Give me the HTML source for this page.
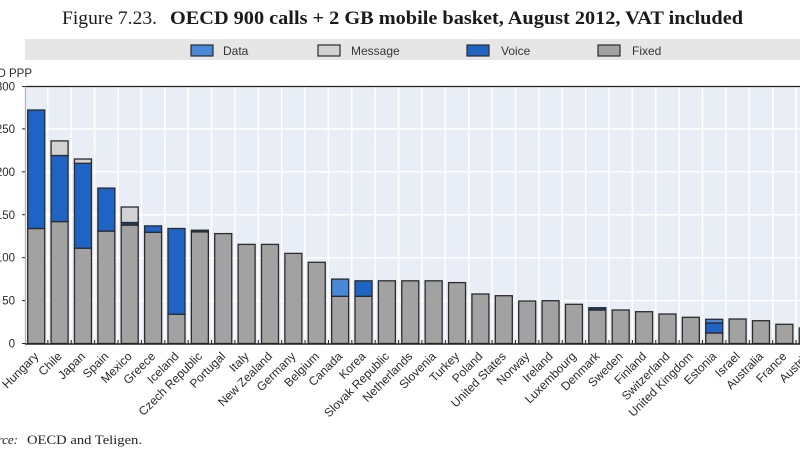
<!DOCTYPE html>
<html>
<head>
<meta charset="utf-8">
<style>
html,body{margin:0;padding:0;background:#fff;}
body{width:800px;height:450px;overflow:hidden;}
svg{display:block;}
.lbl{font-family:"Liberation Sans",Arial,sans-serif;font-size:12px;fill:#2a2a2a;}
.yl{font-family:"Liberation Sans",Arial,sans-serif;font-size:11.5px;fill:#2a2a2a;}
.lg{font-family:"Liberation Sans",Arial,sans-serif;font-size:12px;fill:#333;}
</style>
</head>
<body>
<svg width="800" height="450" viewBox="0 0 800 450" xmlns="http://www.w3.org/2000/svg">
<rect x="0" y="0" width="800" height="450" fill="#fff"/>

<!-- Title -->
<text x="62" y="24" font-family="'Liberation Serif',serif" font-size="19" fill="#1a1a1a" textLength="95" lengthAdjust="spacingAndGlyphs">Figure 7.23.</text>
<text x="170" y="24" font-family="'Liberation Serif',serif" font-size="19" font-weight="bold" fill="#1a1a1a" textLength="573" lengthAdjust="spacingAndGlyphs">OECD 900 calls + 2 GB mobile basket, August 2012, VAT included</text>

<!-- Legend band -->
<rect x="25" y="39" width="775" height="21" fill="#e6e6e6"/>
<rect x="191" y="45" width="22" height="11" fill="#4a88d8" stroke="#2b2b2b" stroke-width="1.2"/>
<text class="lg" x="223" y="55">Data</text>
<rect x="318" y="45" width="22" height="11" fill="#d2d2d2" stroke="#2b2b2b" stroke-width="1.2"/>
<text class="lg" x="351" y="55">Message</text>
<rect x="467" y="45" width="22" height="11" fill="#1f64c4" stroke="#2b2b2b" stroke-width="1.2"/>
<text class="lg" x="501" y="55">Voice</text>
<rect x="598" y="45" width="22" height="11" fill="#a2a2a2" stroke="#2b2b2b" stroke-width="1.2"/>
<text class="lg" x="632" y="55">Fixed</text>

<!-- Y axis title -->
<text class="yl" x="32" y="77" text-anchor="end">USD PPP</text>

<!-- Plot background -->
<rect x="25" y="86" width="775" height="258" fill="#e9edf5"/>
<!-- horizontal grid -->
<g stroke="#ffffff" stroke-width="1.5">
<line x1="25" x2="800" y1="300.6" y2="300.6"/>
<line x1="25" x2="800" y1="257.7" y2="257.7"/>
<line x1="25" x2="800" y1="214.75" y2="214.75"/>
<line x1="25" x2="800" y1="171.8" y2="171.8"/>
<line x1="25" x2="800" y1="128.9" y2="128.9"/>
</g>
<!-- vertical grid -->
<g stroke="#ffffff" stroke-width="1.5">
<line x1="47.88" x2="47.88" y1="87" y2="344"/>
<line x1="71.26" x2="71.26" y1="87" y2="344"/>
<line x1="94.64" x2="94.64" y1="87" y2="344"/>
<line x1="118.02" x2="118.02" y1="87" y2="344"/>
<line x1="141.4" x2="141.4" y1="87" y2="344"/>
<line x1="164.78" x2="164.78" y1="87" y2="344"/>
<line x1="188.16" x2="188.16" y1="87" y2="344"/>
<line x1="211.54" x2="211.54" y1="87" y2="344"/>
<line x1="234.92" x2="234.92" y1="87" y2="344"/>
<line x1="258.3" x2="258.3" y1="87" y2="344"/>
<line x1="281.68" x2="281.68" y1="87" y2="344"/>
<line x1="305.06" x2="305.06" y1="87" y2="344"/>
<line x1="328.44" x2="328.44" y1="87" y2="344"/>
<line x1="351.82" x2="351.82" y1="87" y2="344"/>
<line x1="375.2" x2="375.2" y1="87" y2="344"/>
<line x1="398.58" x2="398.58" y1="87" y2="344"/>
<line x1="421.96" x2="421.96" y1="87" y2="344"/>
<line x1="445.34" x2="445.34" y1="87" y2="344"/>
<line x1="468.72" x2="468.72" y1="87" y2="344"/>
<line x1="492.1" x2="492.1" y1="87" y2="344"/>
<line x1="515.48" x2="515.48" y1="87" y2="344"/>
<line x1="538.86" x2="538.86" y1="87" y2="344"/>
<line x1="562.24" x2="562.24" y1="87" y2="344"/>
<line x1="585.62" x2="585.62" y1="87" y2="344"/>
<line x1="609" x2="609" y1="87" y2="344"/>
<line x1="632.38" x2="632.38" y1="87" y2="344"/>
<line x1="655.76" x2="655.76" y1="87" y2="344"/>
<line x1="679.14" x2="679.14" y1="87" y2="344"/>
<line x1="702.52" x2="702.52" y1="87" y2="344"/>
<line x1="725.9" x2="725.9" y1="87" y2="344"/>
<line x1="749.28" x2="749.28" y1="87" y2="344"/>
<line x1="772.66" x2="772.66" y1="87" y2="344"/>
<line x1="796.04" x2="796.04" y1="87" y2="344"/>
</g>
<!-- frame -->
<line x1="25" x2="800" y1="86.5" y2="86.5" stroke="#222" stroke-width="1.2"/>
<line x1="25.3" x2="25.3" y1="86" y2="344" stroke="#9a9a9a" stroke-width="0.8"/>

<!-- Bars -->
<g stroke="#2b2b2b" stroke-width="1.3">
<!-- Hungary -->
<rect x="27.7" y="228.5" width="17" height="115" fill="#a2a2a2"/>
<rect x="27.7" y="110" width="17" height="118.5" fill="#1f64c4"/>
<!-- Chile -->
<rect x="51.08" y="221.6" width="17" height="121.9" fill="#a2a2a2"/>
<rect x="51.08" y="155.5" width="17" height="66.1" fill="#1f64c4"/>
<rect x="51.08" y="140.9" width="17" height="14.6" fill="#d2d2d2"/>
<!-- Japan -->
<rect x="74.46" y="248.2" width="17" height="95.3" fill="#a2a2a2"/>
<rect x="74.46" y="163.3" width="17" height="84.9" fill="#1f64c4"/>
<rect x="74.46" y="159" width="17" height="4.3" fill="#d2d2d2"/>
<!-- Spain -->
<rect x="97.84" y="231.1" width="17" height="112.4" fill="#a2a2a2"/>
<rect x="97.84" y="188.1" width="17" height="43" fill="#1f64c4"/>
<!-- Mexico -->
<rect x="121.22" y="225.1" width="17" height="118.4" fill="#a2a2a2"/>
<rect x="121.22" y="222.5" width="17" height="2.6" fill="#1f3f7a"/>
<rect x="121.22" y="207" width="17" height="15.5" fill="#d2d2d2"/>
<!-- Greece -->
<rect x="144.6" y="232.3" width="17" height="111.2" fill="#a2a2a2"/>
<rect x="144.6" y="225.9" width="17" height="6.4" fill="#1f64c4"/>
<!-- Iceland -->
<rect x="167.98" y="314.3" width="17" height="29.2" fill="#a2a2a2"/>
<rect x="167.98" y="228.5" width="17" height="85.8" fill="#1f64c4"/>
<!-- Czech Republic -->
<rect x="191.36" y="231.9" width="17" height="111.6" fill="#a2a2a2"/>
<rect x="191.36" y="230.2" width="17" height="1.7" fill="#1f3f7a"/>
<!-- Portugal -->
<rect x="214.74" y="233.6" width="17" height="109.9" fill="#a2a2a2"/>
<!-- Italy -->
<rect x="238.12" y="244.4" width="17" height="99.1" fill="#a2a2a2"/>
<!-- New Zealand -->
<rect x="261.5" y="244.4" width="17" height="99.1" fill="#a2a2a2"/>
<!-- Germany -->
<rect x="284.88" y="253.4" width="17" height="90.1" fill="#a2a2a2"/>
<!-- Belgium -->
<rect x="308.26" y="262.3" width="17" height="81.2" fill="#a2a2a2"/>
<!-- Canada -->
<rect x="331.64" y="296.3" width="17" height="47.2" fill="#a2a2a2"/>
<rect x="331.64" y="279.1" width="17" height="17.2" fill="#4a88d8"/>
<!-- Korea -->
<rect x="355.02" y="296.3" width="17" height="47.2" fill="#a2a2a2"/>
<rect x="355.02" y="280.8" width="17" height="15.5" fill="#1f64c4"/>
<!-- Slovak Republic -->
<rect x="378.4" y="280.8" width="17" height="62.7" fill="#a2a2a2"/>
<!-- Netherlands -->
<rect x="401.78" y="280.8" width="17" height="62.7" fill="#a2a2a2"/>
<!-- Slovenia -->
<rect x="425.16" y="280.8" width="17" height="62.7" fill="#a2a2a2"/>
<!-- Turkey -->
<rect x="448.54" y="282.6" width="17" height="60.9" fill="#a2a2a2"/>
<!-- Poland -->
<rect x="471.92" y="294" width="17" height="49.5" fill="#a2a2a2"/>
<!-- United States -->
<rect x="495.3" y="295.7" width="17" height="47.8" fill="#a2a2a2"/>
<!-- Norway -->
<rect x="518.68" y="301" width="17" height="42.5" fill="#a2a2a2"/>
<!-- Ireland -->
<rect x="542.06" y="300.7" width="17" height="42.8" fill="#a2a2a2"/>
<!-- Luxembourg -->
<rect x="565.44" y="304.3" width="17" height="39.2" fill="#a2a2a2"/>
<!-- Denmark -->
<rect x="588.82" y="310" width="17" height="33.5" fill="#a2a2a2"/>
<rect x="588.82" y="307.7" width="17" height="2.3" fill="#1f3f7a"/>
<!-- Sweden -->
<rect x="612.2" y="310" width="17" height="33.5" fill="#a2a2a2"/>
<!-- Finland -->
<rect x="635.58" y="311.7" width="17" height="31.8" fill="#a2a2a2"/>
<!-- Switzerland -->
<rect x="658.96" y="314" width="17" height="29.5" fill="#a2a2a2"/>
<!-- United Kingdom -->
<rect x="682.34" y="317.3" width="17" height="26.2" fill="#a2a2a2"/>
<!-- Estonia -->
<rect x="705.72" y="333" width="17" height="10.5" fill="#a2a2a2"/>
<rect x="705.72" y="323" width="17" height="10" fill="#1f64c4"/>
<rect x="705.72" y="319.3" width="17" height="3.7" fill="#4a88d8"/>
<!-- Israel -->
<rect x="729.1" y="319" width="17" height="24.5" fill="#a2a2a2"/>
<!-- Australia -->
<rect x="752.48" y="320.7" width="17" height="22.8" fill="#a2a2a2"/>
<!-- France -->
<rect x="775.86" y="324.3" width="17" height="19.2" fill="#a2a2a2"/>
<!-- Austria -->
<rect x="799.24" y="328" width="17" height="15.5" fill="#a2a2a2"/>
</g>

<!-- x axis -->
<line x1="25" x2="800" y1="344" y2="344" stroke="#222" stroke-width="1.6"/>
<g stroke="#222" stroke-width="1">
<line x1="47.88" x2="47.88" y1="344" y2="340"/>
<line x1="71.26" x2="71.26" y1="344" y2="340"/>
<line x1="94.64" x2="94.64" y1="344" y2="340"/>
<line x1="118.02" x2="118.02" y1="344" y2="340"/>
<line x1="141.4" x2="141.4" y1="344" y2="340"/>
<line x1="164.78" x2="164.78" y1="344" y2="340"/>
<line x1="188.16" x2="188.16" y1="344" y2="340"/>
<line x1="211.54" x2="211.54" y1="344" y2="340"/>
<line x1="234.92" x2="234.92" y1="344" y2="340"/>
<line x1="258.3" x2="258.3" y1="344" y2="340"/>
<line x1="281.68" x2="281.68" y1="344" y2="340"/>
<line x1="305.06" x2="305.06" y1="344" y2="340"/>
<line x1="328.44" x2="328.44" y1="344" y2="340"/>
<line x1="351.82" x2="351.82" y1="344" y2="340"/>
<line x1="375.2" x2="375.2" y1="344" y2="340"/>
<line x1="398.58" x2="398.58" y1="344" y2="340"/>
<line x1="421.96" x2="421.96" y1="344" y2="340"/>
<line x1="445.34" x2="445.34" y1="344" y2="340"/>
<line x1="468.72" x2="468.72" y1="344" y2="340"/>
<line x1="492.1" x2="492.1" y1="344" y2="340"/>
<line x1="515.48" x2="515.48" y1="344" y2="340"/>
<line x1="538.86" x2="538.86" y1="344" y2="340"/>
<line x1="562.24" x2="562.24" y1="344" y2="340"/>
<line x1="585.62" x2="585.62" y1="344" y2="340"/>
<line x1="609" x2="609" y1="344" y2="340"/>
<line x1="632.38" x2="632.38" y1="344" y2="340"/>
<line x1="655.76" x2="655.76" y1="344" y2="340"/>
<line x1="679.14" x2="679.14" y1="344" y2="340"/>
<line x1="702.52" x2="702.52" y1="344" y2="340"/>
<line x1="725.9" x2="725.9" y1="344" y2="340"/>
<line x1="749.28" x2="749.28" y1="344" y2="340"/>
<line x1="772.66" x2="772.66" y1="344" y2="340"/>
<line x1="796.04" x2="796.04" y1="344" y2="340"/>
</g>
<!-- y ticks -->
<g stroke="#222" stroke-width="1">
<line x1="22" x2="25" y1="343.5" y2="343.5"/>
<line x1="22" x2="25" y1="300.6" y2="300.6"/>
<line x1="22" x2="25" y1="257.7" y2="257.7"/>
<line x1="22" x2="25" y1="214.75" y2="214.75"/>
<line x1="22" x2="25" y1="171.8" y2="171.8"/>
<line x1="22" x2="25" y1="128.9" y2="128.9"/>
<line x1="22" x2="25" y1="86.5" y2="86.5"/>
</g>
<!-- y labels -->
<g class="yl" text-anchor="end">
<text x="15" y="347.5">0</text>
<text x="15" y="304.6">50</text>
<text x="15" y="261.7">100</text>
<text x="15" y="218.8">150</text>
<text x="15" y="175.8">200</text>
<text x="15" y="132.9">250</text>
<text x="15" y="90.5">300</text>
</g>

<!-- x labels -->
<g class="lbl" text-anchor="end">
<text transform="translate(39.2,357) rotate(-45)">Hungary</text>
<text transform="translate(62.6,357) rotate(-45)">Chile</text>
<text transform="translate(86,357) rotate(-45)">Japan</text>
<text transform="translate(109.3,357) rotate(-45)">Spain</text>
<text transform="translate(132.7,357) rotate(-45)">Mexico</text>
<text transform="translate(156.1,357) rotate(-45)">Greece</text>
<text transform="translate(179.5,357) rotate(-45)">Iceland</text>
<text transform="translate(202.9,357) rotate(-45)">Czech Republic</text>
<text transform="translate(226.2,357) rotate(-45)">Portugal</text>
<text transform="translate(249.6,357) rotate(-45)">Italy</text>
<text transform="translate(273,357) rotate(-45)">New Zealand</text>
<text transform="translate(296.4,357) rotate(-45)">Germany</text>
<text transform="translate(319.8,357) rotate(-45)">Belgium</text>
<text transform="translate(343.1,357) rotate(-45)">Canada</text>
<text transform="translate(366.5,357) rotate(-45)">Korea</text>
<text transform="translate(389.9,357) rotate(-45)">Slovak Republic</text>
<text transform="translate(413.3,357) rotate(-45)">Netherlands</text>
<text transform="translate(436.7,357) rotate(-45)">Slovenia</text>
<text transform="translate(460,357) rotate(-45)">Turkey</text>
<text transform="translate(483.4,357) rotate(-45)">Poland</text>
<text transform="translate(506.8,357) rotate(-45)">United States</text>
<text transform="translate(530.2,357) rotate(-45)">Norway</text>
<text transform="translate(553.6,357) rotate(-45)">Ireland</text>
<text transform="translate(576.9,357) rotate(-45)">Luxembourg</text>
<text transform="translate(600.3,357) rotate(-45)">Denmark</text>
<text transform="translate(623.7,357) rotate(-45)">Sweden</text>
<text transform="translate(647.1,357) rotate(-45)">Finland</text>
<text transform="translate(670.5,357) rotate(-45)">Switzerland</text>
<text transform="translate(693.8,357) rotate(-45)">United Kingdom</text>
<text transform="translate(717.2,357) rotate(-45)">Estonia</text>
<text transform="translate(740.6,357) rotate(-45)">Israel</text>
<text transform="translate(764,357) rotate(-45)">Australia</text>
<text transform="translate(787.4,357) rotate(-45)">France</text>
<text transform="translate(810.7,357) rotate(-45)">Austria</text>
</g>

<!-- Source -->
<text x="18" y="444" text-anchor="end" font-family="'Liberation Serif',serif" font-size="13" font-style="italic" fill="#222">Source:</text>
<text x="27" y="444" font-family="'Liberation Serif',serif" font-size="13" fill="#222" textLength="115" lengthAdjust="spacingAndGlyphs">OECD and Teligen.</text>
</svg>
</body>
</html>
